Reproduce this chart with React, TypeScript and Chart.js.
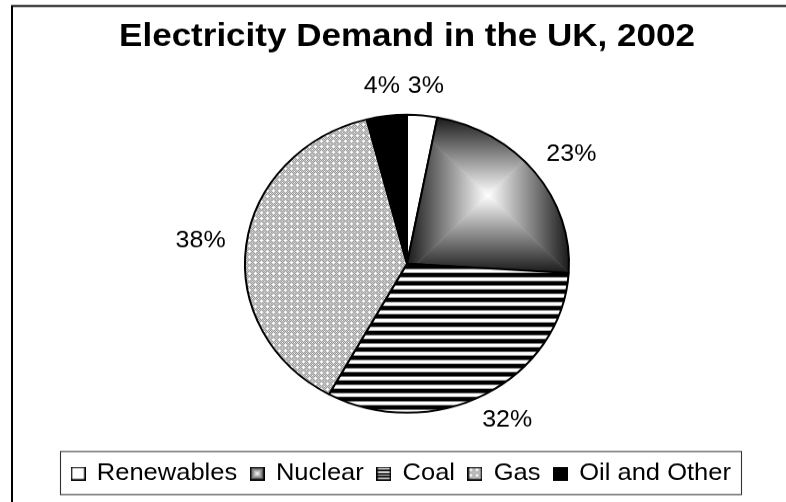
import React, { useEffect, useRef } from "react";
import { Chart, registerables } from "chart.js";

Chart.register(...registerables);

const TITLE = "Electricity Demand in the UK, 2002";
const categories = ["Renewables", "Nuclear", "Coal", "Gas", "Oil and Other"];
const shares = [3, 23, 32, 38, 4];
const pctLabels = ["3%", "23%", "32%", "38%", "4%"];

const FONT = "'Liberation Sans', Arial, sans-serif";
const W = 786;
const H_OUT = 502;
const SQUASH = 0.92; // reference picture is vertically compressed
const H_IN = Math.round(H_OUT / SQUASH);
const PIE_R = 162;
const LEGEND_FONT = 25.5;
const LEGEND_PAD = 14;
const LEGEND_SHIFT = -5.5;

function rectGradient(ctx: CanvasRenderingContext2D, x0: number, y0: number, x1: number, y1: number, edge: string, mid: string) {
  const cx = (x0 + x1) / 2, cy = (y0 + y1) / 2;
  const tris: number[][][] = [
    [[x0, y0], [x1, y0], [cx, y0]],
    [[x1, y0], [x1, y1], [x1, cy]],
    [[x1, y1], [x0, y1], [cx, y1]],
    [[x0, y1], [x0, y0], [x0, cy]],
  ];
  for (const [a, b, e] of tris) {
    ctx.save();
    ctx.beginPath();
    ctx.moveTo(cx, cy);
    ctx.lineTo(a[0], a[1]);
    ctx.lineTo(b[0], b[1]);
    ctx.closePath();
    const g = ctx.createLinearGradient(cx, cy, e[0], e[1]);
    g.addColorStop(0, mid);
    g.addColorStop(1, edge);
    ctx.fillStyle = g;
    ctx.fill();
    ctx.strokeStyle = g;
    ctx.lineWidth = 0.6;
    ctx.stroke();
    ctx.restore();
  }
}

function makeCanvas(w: number, h: number) {
  const c = document.createElement("canvas");
  c.width = w;
  c.height = h;
  return c;
}

function stripeTile() {
  const rows = ["#000", "#000", "#000", "#000", "#777", "#fff", "#fff", "#fff", "#aaa"];
  const c = makeCanvas(8, rows.length);
  const x = c.getContext("2d")!;
  rows.forEach((col, i) => {
    x.fillStyle = col;
    x.fillRect(0, i, 8, 1);
  });
  return c;
}

function gasTile() {
  const c = makeCanvas(6, 6);
  const x = c.getContext("2d")!;
  for (let i = 0; i < 6; i++) {
    for (let j = 0; j < 6; j++) {
      x.fillStyle = (i + j) % 2 === 0 ? "#d2d2d2" : "#989898";
      x.fillRect(i, j, 1, 1);
    }
  }
  x.fillStyle = "#ffffff";
  [[3, 3], [2, 3], [4, 3], [3, 2], [3, 4], [0, 0]].forEach(([i, j]) => x.fillRect(i, j, 1, 1));
  return c;
}

function nuclearFill(c: any) {
  const chart = c.chart;
  const area = chart.chartArea;
  if (!area) return "#888";
  const cx = (area.left + area.right) / 2;
  const cy = (area.top + area.bottom) / 2;
  const total = shares.reduce((s, v) => s + v, 0);
  const a0 = (shares[0] / total) * Math.PI * 2 - Math.PI / 2;
  const a1 = ((shares[0] + shares[1]) / total) * Math.PI * 2 - Math.PI / 2;
  let minX = cx, maxX = cx, minY = cy, maxY = cy;
  for (let k = 0; k <= 60; k++) {
    const a = a0 + ((a1 - a0) * k) / 60;
    const px = cx + Math.cos(a) * PIE_R, py = cy + Math.sin(a) * PIE_R;
    minX = Math.min(minX, px); maxX = Math.max(maxX, px);
    minY = Math.min(minY, py); maxY = Math.max(maxY, py);
  }
  const cv = makeCanvas(chart.width, chart.height);
  rectGradient(cv.getContext("2d")!, minX, minY, maxX, maxY, "#1a1a1a", "#ffffff");
  return chart.ctx.createPattern(cv, "no-repeat");
}

function legendIcon(i: number) {
  const s = 15;
  const c = makeCanvas(s, s);
  const x = c.getContext("2d")!;
  if (i === 0) {
    x.fillStyle = "#fff";
    x.fillRect(0, 0, s, s);
  } else if (i === 1) {
    rectGradient(x, 0, 0, s, s, "#303030", "#ffffff");
  } else if (i === 2) {
    x.fillStyle = "#fff";
    x.fillRect(0, 0, s, s);
    x.fillStyle = "#000";
    [3, 7, 10].forEach((y) => x.fillRect(0, y, s, 2));
  } else if (i === 3) {
    x.fillStyle = x.createPattern(gasTile(), "repeat")!;
    x.fillRect(0, 0, s, s);
  } else {
    x.fillStyle = "#000";
    x.fillRect(0, 0, s, s);
  }
  x.strokeStyle = "#000";
  x.lineWidth = 1.5;
  x.strokeRect(0.75, 0.75, s - 1.5, s - 1.5);
  return c;
}

const framePlugin = {
  id: "frame",
  afterUpdate(chart: any) {
    const lg = chart.legend;
    if (!lg) return;
    lg.left += LEGEND_SHIFT;
    lg.right += LEGEND_SHIFT;
    (lg.legendHitBoxes || []).forEach((h: any) => (h.left += LEGEND_SHIFT));
  },
  beforeDraw(chart: any) {
    const ctx = chart.ctx;
    ctx.save();
    ctx.fillStyle = "#fff";
    ctx.fillRect(0, 0, chart.width, chart.height);
    ctx.strokeStyle = "#000";
    ctx.lineWidth = 2;
    ctx.strokeRect(12, 6.5, chart.width + 20, chart.height + 20);
    ctx.restore();
  },
  afterDraw(chart: any) {
    const lg = chart.legend;
    const boxes = lg?.legendHitBoxes;
    if (!boxes || !boxes.length) return;
    let l = Infinity, r = -Infinity;
    boxes.forEach((h: any) => {
      l = Math.min(l, h.left);
      r = Math.max(r, h.left + h.width);
    });
    const mid = (lg.top + lg.bottom) / 2 + 1.5;
    const ctx = chart.ctx;
    ctx.save();
    ctx.strokeStyle = "#333";
    ctx.lineWidth = 1.1;
    ctx.strokeRect(Math.round(l - 12) + 0.5, mid - 23.4, Math.round(r - l + 22), 46.8);
    ctx.restore();
  },
};

const pctPlugin = {
  id: "pct",
  afterDatasetsDraw(chart: any) {
    const meta = chart.getDatasetMeta(0);
    const ctx = chart.ctx;
    ctx.save();
    ctx.font = `25px ${FONT}`;
    ctx.fillStyle = "#000";
    ctx.textAlign = "center";
    ctx.textBaseline = "middle";
    meta.data.forEach((arc: any, i: number) => {
      const p = arc.getProps(["x", "y", "startAngle", "endAngle", "outerRadius"], true);
      const mid = (p.startAngle + p.endAngle) / 2;
      const hw = ctx.measureText(pctLabels[i]).width / 2;
      const tx = p.x + Math.cos(mid) * (p.outerRadius + 21 + hw);
      const ty = p.y + Math.sin(mid) * (p.outerRadius + 32);
      ctx.fillText(pctLabels[i], tx, ty);
    });
    ctx.restore();
  },
};

export default function App() {
  const ref = useRef<HTMLCanvasElement>(null);
  useEffect(() => {
    document.body.style.margin = "0";
    const ctx2d = ref.current!.getContext("2d")!;
    const stripes = ctx2d.createPattern(stripeTile(), "repeat");
    const gas = ctx2d.createPattern(gasTile(), "repeat");
    const icons = categories.map((_, i) => legendIcon(i));
    const fills: any[] = ["#ffffff", nuclearFill, stripes, gas, "#000000"];
    const chart = new Chart(ref.current!, {
      type: "pie",
      data: {
        labels: categories,
        datasets: [
          {
            data: shares,
            backgroundColor: (c: any) => {
              const f = fills[c.dataIndex];
              return typeof f === "function" ? f(c) : f;
            },
            borderColor: "#000",
            borderWidth: 2,
          },
        ],
      },
      options: {
        responsive: false,
        animation: false,
        devicePixelRatio: 1,
        radius: PIE_R,
        layout: { padding: { left: 28, right: 0, top: 19.2, bottom: 8.25 } },
        plugins: {
          title: {
            display: true,
            text: TITLE,
            color: "#000",
            font: { family: FONT, size: 35, weight: "bold" },
            padding: { top: 0, bottom: 24.15 },
          },
          legend: {
            position: "bottom",
            labels: {
              usePointStyle: true,
              pointStyleWidth: 12,
              boxWidth: 12,
              boxHeight: 15,
              padding: LEGEND_PAD,
              color: "#000",
              font: { family: FONT, size: LEGEND_FONT },
              generateLabels: () =>
                categories.map((name, i) => ({
                  text: name,
                  pointStyle: icons[i],
                  fillStyle: "#fff",
                  strokeStyle: "#000",
                  lineWidth: 0,
                  hidden: false,
                  index: i,
                  datasetIndex: 0,
                  fontColor: "#000",
                })),
            },
          },
          tooltip: { enabled: false },
        },
      } as any,
      plugins: [framePlugin, pctPlugin],
    });
    return () => chart.destroy();
  }, []);
  return (
    <div style={{ width: W, height: H_OUT, overflow: "hidden" }}>
      <div style={{ width: W, height: H_IN, transform: `scale(1, ${H_OUT / H_IN})`, transformOrigin: "0 0" }}>
        <canvas ref={ref} width={W} height={H_IN} style={{ display: "block" }} />
      </div>
    </div>
  );
}
